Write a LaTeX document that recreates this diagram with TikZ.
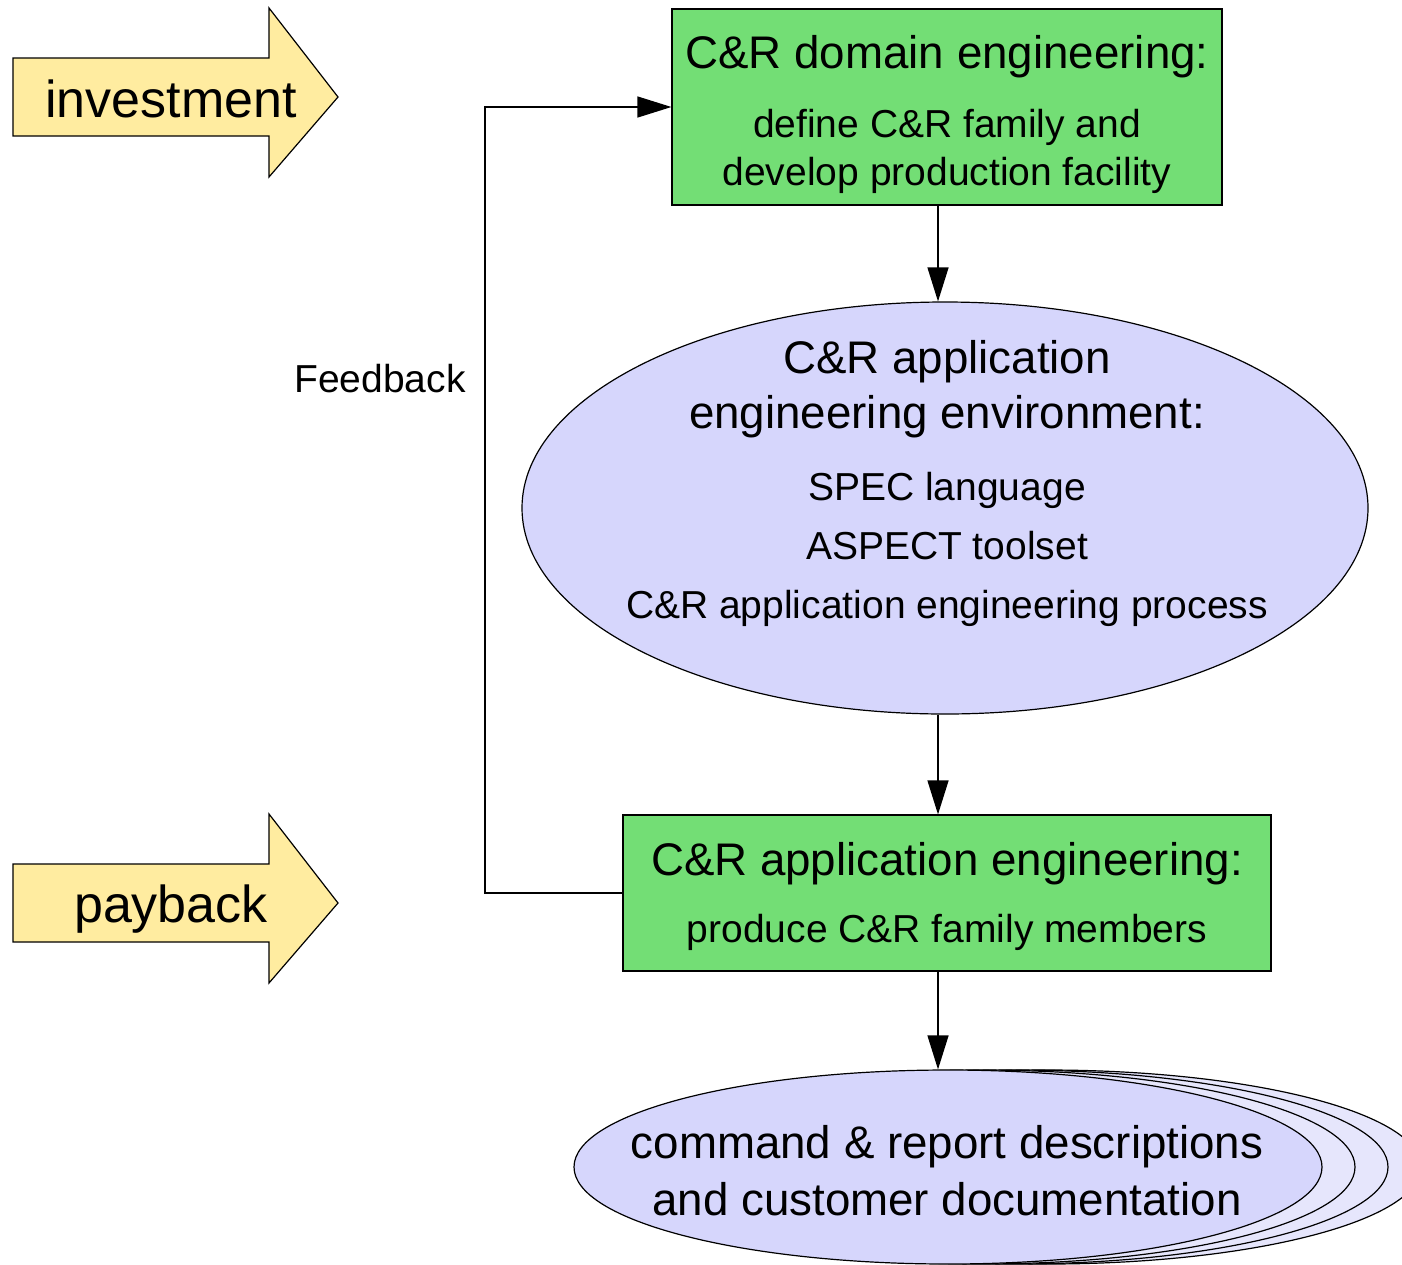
\documentclass[tikz,border=0pt]{standalone}
\usepackage{fontspec}
\setmainfont{Liberation Sans}
\usetikzlibrary{arrows.meta,shapes.geometric}
\definecolor{boxgreen}{RGB}{115,222,117}
\definecolor{arrowyellow}{RGB}{255,236,160}
\definecolor{lav}{RGB}{214,214,252}
\definecolor{lavlight}{RGB}{230,230,252}
\tikzset{
  gbox/.style={draw=black, line width=1.2pt, fill=boxgreen, rectangle, inner sep=0pt},
  lavell/.style={draw=black, line width=1.2pt, fill=lav, ellipse, inner sep=0pt},
  backell/.style={draw=black, line width=1.2pt, fill=lavlight, ellipse, inner sep=0pt},
  yarrow/.style={draw=black, line width=1.2pt, fill=arrowyellow, line join=miter},
  conn/.style={draw=black, line width=1.3pt, -{Triangle[length=34pt,width=21pt]}},
  bigtxt/.style={anchor=base, inner sep=0pt, font=\fontsize{45.7}{50}\selectfont},
  smalltxt/.style={anchor=base, inner sep=0pt, font=\fontsize{39}{44}\selectfont},
  arrtxt/.style={anchor=base, inner sep=0pt, font=\fontsize{52}{56}\selectfont},
}
\begin{document}
\begin{tikzpicture}[x=1pt,y=-1pt]
\useasboundingbox (0,0) rectangle (1402,1264);
\fill[white] (0,0) rectangle (1402,1264);

% yellow block arrows
\path[yarrow] (13,58) -- (269,58) -- (269,8) -- (338,97) -- (269,177) -- (269,136) -- (13,136) -- cycle;
\node[arrtxt] (investment) at (171,117) {investment};
\path[yarrow] (13,864) -- (269,864) -- (269,814) -- (338,903) -- (269,983) -- (269,942) -- (13,942) -- cycle;
\node[arrtxt] (payback) at (171,922) {payback};

% main nodes
\node[gbox, minimum width=550pt, minimum height=196pt] (dom) at (947,107) {};
\node[lavell, minimum width=846pt, minimum height=412pt] (env) at (945,508) {};
\node[gbox, minimum width=648pt, minimum height=156pt] (app) at (947,893) {};

% stacked output ellipses
\begin{scope}
\clip (0,0) rectangle (1402,1264);
\node[backell, minimum width=748pt, minimum height=194pt] (out3) at (1047,1167) {};
\node[backell, minimum width=748pt, minimum height=194pt] (out2) at (1014,1167) {};
\node[backell, minimum width=748pt, minimum height=194pt] (out1) at (981,1167) {};
\node[lavell, minimum width=748pt, minimum height=194pt] (out) at (948,1167) {};
\end{scope}

% texts
\node[bigtxt] (domT) at (947,68) {C\&R domain engineering:};
\node[smalltxt] (domA) at (947,137) {define C\&R family and};
\node[smalltxt] (domB) at (947,185) {develop production facility};

\node[bigtxt] (envT1) at (947,373) {C\&R application};
\node[bigtxt] (envT2) at (947,428) {engineering environment:};
\node[smalltxt] (envA) at (947,500) {SPEC language};
\node[smalltxt] (envB) at (947,559) {ASPECT toolset};
\node[smalltxt] (envC) at (947,618) {C\&R application engineering process};

\node[bigtxt] (appT) at (947,875) {C\&R application engineering:};
\node[smalltxt] (appA) at (947,942) {produce C\&R family members};

\node[bigtxt] (outT1) at (947,1158) {command \& report descriptions};
\node[bigtxt] (outT2) at (947,1215) {and customer documentation};

\node[smalltxt] (fbl) at (380,392) {Feedback};

% connectors
\coordinate (axis) at (938,0);
\draw[conn] (dom.south -| axis) -- (env.north -| axis);
\draw[conn] (env.south -| axis) -- (app.north -| axis);
\draw[conn] (app.south -| axis) -- (out.north -| axis);
\coordinate (fb) at (485,500);
\draw[conn] (app.west) -| (fb) |- (dom.west);
\end{tikzpicture}
\end{document}
